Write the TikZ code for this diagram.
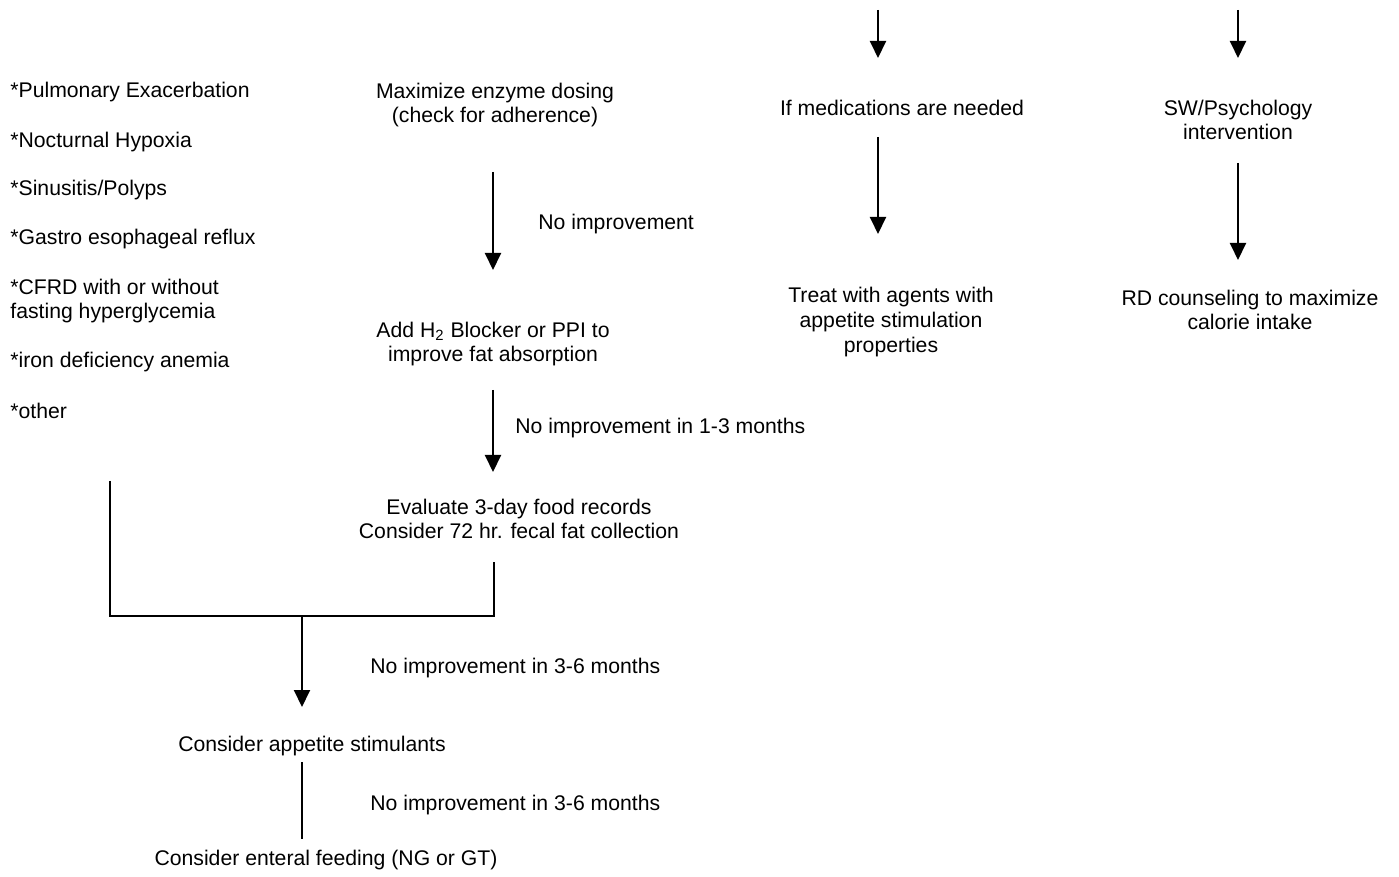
\documentclass[tikz,border=0pt]{standalone}
\usepackage{fontspec}
\setmainfont{Liberation Sans}
\usetikzlibrary{arrows.meta}

\begin{document}
\begin{tikzpicture}[x=0.5pt,y=-0.5pt,
	txt/.style={font=\fontsize{10.6}{12.3}\selectfont, inner sep=0pt, align=center},
	lst/.style={txt, anchor=west, align=left},
	line/.style={line width=1pt},
	arr/.style={line, -{Triangle[length=8.5pt,width=8pt]}}]
		%%%%% START %%%%%
		\useasboundingbox (0,0) rectangle (1399,877);
		
		% left column: other causes
		\node[lst] (pulm) at (10, 92) {*Pulmonary Exacerbation};
		\node[lst] (hypox) at (10, 142) {*Nocturnal Hypoxia};
		\node[lst] (sinus) at (10, 190) {*Sinusitis/Polyps};
		\node[lst] (gerd) at (10, 239) {*Gastro esophageal reflux};
		\node[lst] (cfrd) at (10, 301) {*CFRD with or without\\fasting hyperglycemia};
		\node[lst] (iron) at (10, 362) {*iron deficiency anemia};
		\node[lst] (other) at (10, 411) {*other};
		
		% middle column: enzymes
		\node[txt] (enzyme) at (495, 105) {Maximize enzyme dosing\\(check for adherence)};
		\coordinate (e1) at (493, 172);
		\coordinate (e2) at (493, 270);
		\draw[arr] (e1) -- (e2);
		\node[lst] (noimp) at (538, 224) {No improvement};
		
		\node[txt] (blocker) at (493, 344) {Add H\textsubscript{2} Blocker or PPI to\\improve fat absorption};
		\coordinate (b1) at (493, 390);
		\coordinate (b2) at (493, 472);
		\draw[arr] (b1) -- (b2);
		\node[lst] (noimp13) at (515, 428) {No improvement in 1-3 months};
		
		\node[txt] (records) at (519, 519) {Evaluate 3-day food records\\Consider 72 hr. fecal fat collection};
		
		% join
		\coordinate (l1) at (110, 481);
		\coordinate (l2) at (110, 616);
		\coordinate (r1) at (494, 562);
		\coordinate (r2) at (494, 616);
		\coordinate (j1) at (302, 616);
		\coordinate (j2) at (302, 707);
		\draw[line] (l1) -- (l2) -- (r2) -- (r1);
		\draw[arr] (j1) -- (j2);
		\node[lst] (noimp36a) at (370, 668) {No improvement in 3-6 months};
		
		\node[txt] (stim) at (312, 746) {Consider appetite stimulants};
		\coordinate (s1) at (302, 762);
		\coordinate (s2) at (302, 839);
		\draw[line] (s1) -- (s2);
		\node[lst] (noimp36b) at (370, 805) {No improvement in 3-6 months};
		\node[txt] (enteral) at (326, 860) {Consider enteral feeding (NG or GT)};
		
		% medications
		\coordinate (m0) at (878, 10);
		\coordinate (m1) at (878, 58);
		\draw[arr] (m0) -- (m1);
		\node[txt] (meds) at (902, 108) {If medications are needed};
		\coordinate (m2) at (878, 137);
		\coordinate (m3) at (878, 234);
		\draw[arr] (m2) -- (m3);
		\node[txt] (agents) at (891, 322) {Treat with agents with\\appetite stimulation\\properties};
		
		% psychology
		\coordinate (p0) at (1238, 10);
		\coordinate (p1) at (1238, 58);
		\draw[arr] (p0) -- (p1);
		\node[txt] (psych) at (1238, 120) {SW/Psychology\\intervention};
		\coordinate (p2) at (1238, 163);
		\coordinate (p3) at (1238, 260);
		\draw[arr] (p2) -- (p3);
		\node[txt] (rd) at (1250, 310) {RD counseling to maximize\\calorie intake};
		
		%%%%% END %%%%%
\end{tikzpicture}
\end{document}
